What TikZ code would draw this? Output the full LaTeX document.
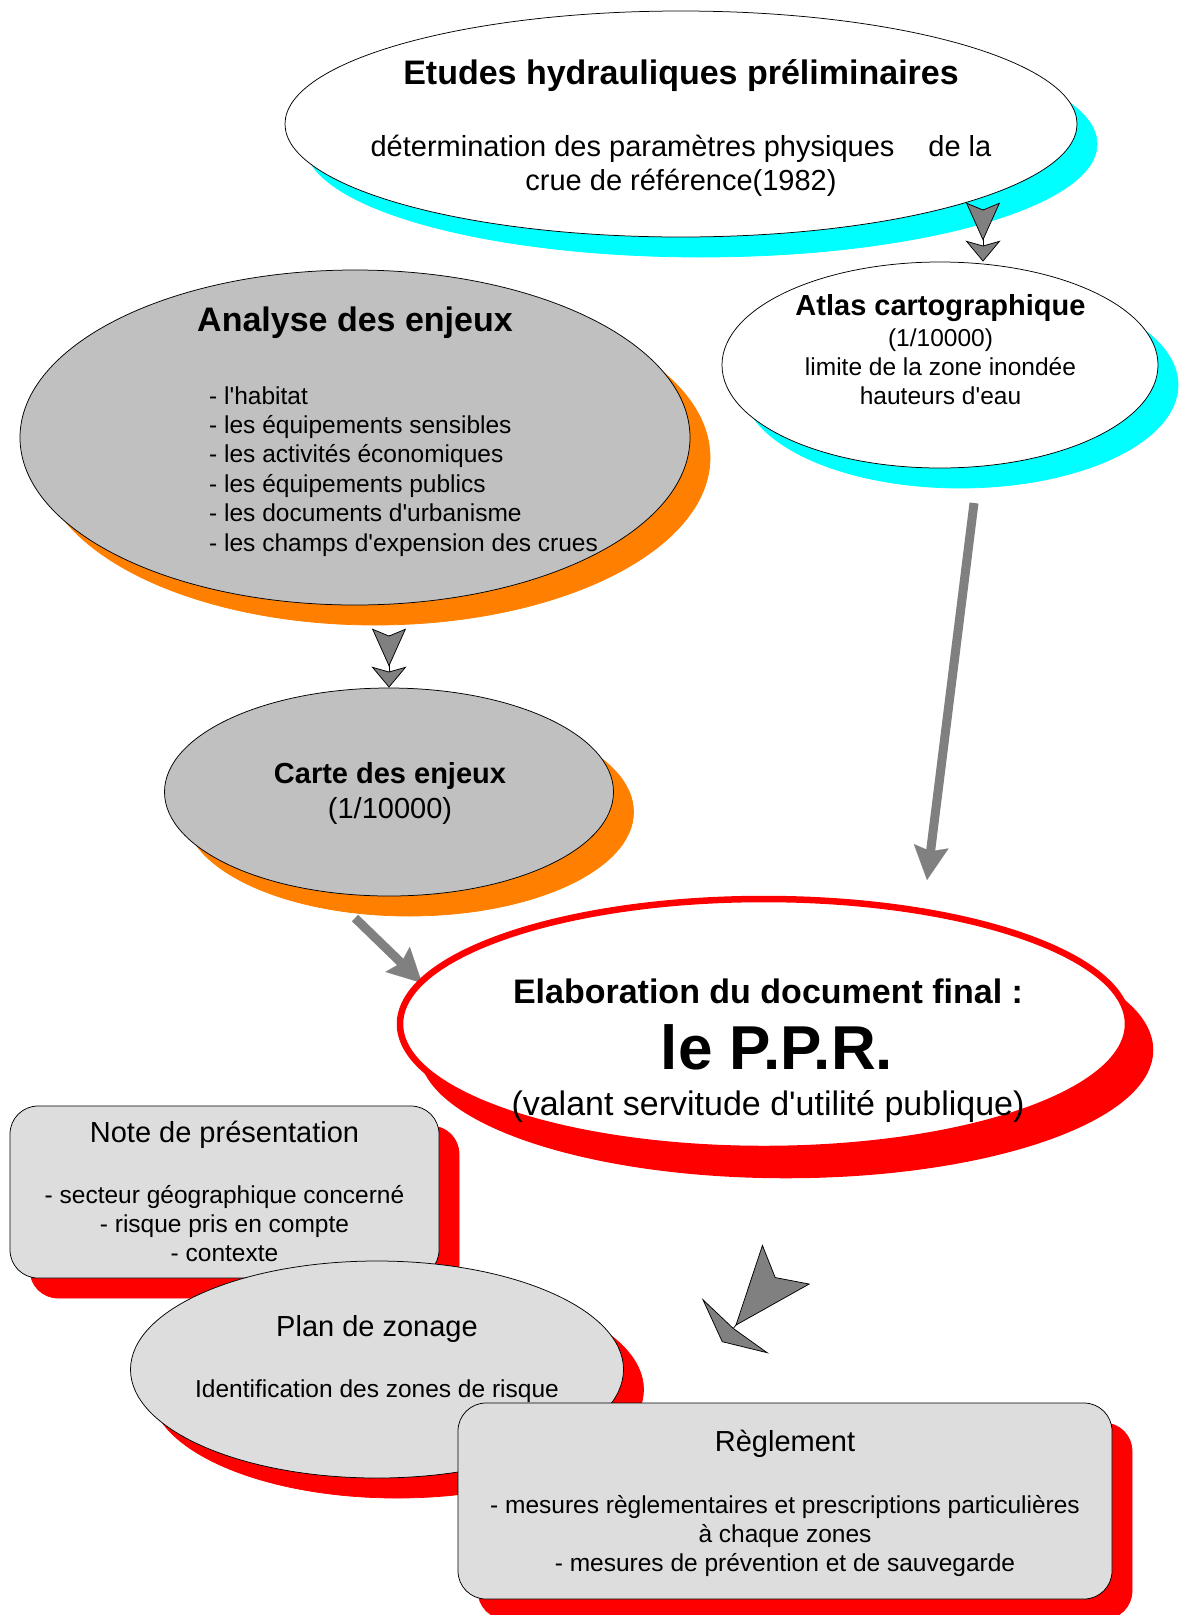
\documentclass[tikz,border=0pt]{standalone}
\usepackage{fontspec}
\setmainfont{Liberation Sans}
\usepackage{xcolor}
\usepackage{tikz}
\usetikzlibrary{arrows.meta,shapes.geometric,shadows}

\definecolor{cyanshd}{RGB}{0,255,255}
\definecolor{orangeshd}{RGB}{255,128,0}
\definecolor{redshd}{RGB}{255,0,0}
\definecolor{silverfill}{RGB}{192,192,192}
\definecolor{lightfill}{RGB}{221,221,221}
\definecolor{arrowgray}{RGB}{128,128,128}

\newcommand{\bigbold}{\fontsize{34}{40}\selectfont\bfseries}
\newcommand{\midbold}{\fontsize{29}{34}\selectfont\bfseries}
\newcommand{\hugebold}{\fontsize{62}{72}\selectfont\bfseries}
\newcommand{\bigtext}{\fontsize{34}{40}\selectfont}
\newcommand{\midtext}{\fontsize{29}{34}\selectfont}
\newcommand{\smalltext}{\fontsize{24.5}{29}\selectfont}
\newcommand{\ap}{\textquotesingle}

\tikzset{
  bubble/.style={ellipse, draw=black, line width=0.75pt, inner sep=0pt},
  slab/.style={rectangle, rounded corners=28pt, draw=black, line width=0.75pt, inner sep=0pt},
  castshadow/.style={general shadow={fill=#1, draw=#1, shadow xshift=20pt, shadow yshift=-20pt}},
  label/.style={anchor=base, inner sep=0pt},
  chevron/.style={draw=black, line width=0.75pt,
    -{Stealth[length=38pt,width=34pt,inset=7pt,fill=arrowgray] Stealth[length=21pt,width=35pt,inset=5pt,fill=arrowgray]}},
  bigarrow/.style={draw=arrowgray, line width=9pt,
    -{Stealth[length=34pt,width=35pt,inset=5pt,line width=0.1pt]}}
}

\begin{document}
\begin{tikzpicture}[x=1pt,y=1pt,yscale=-1]
\useasboundingbox (0,0) rectangle (1182,1615);

%Shape: Ellipse [etudes]
\node[bubble, fill=white, castshadow=cyanshd, minimum width=792pt, minimum height=226pt] (etudes) at (681,124) {};
% Text Node
\node[label, font=\bigbold] (etudesT) at (681,84) {Etudes hydrauliques préliminaires};
\node[label, font=\midtext] (etudesA) at (681,156.5) {détermination des paramètres physiques\hspace{34pt}de la};
\node[label, font=\midtext] (etudesB) at (681,190.5) {crue de référence(1982)};

%Shape: Ellipse [atlas]
\node[bubble, fill=white, castshadow=cyanshd, minimum width=436pt, minimum height=206pt] (atlas) at (940,365) {};
% Text Node
\node[label, font=\midbold] (atlasT) at (940.5,315.5) {Atlas cartographique};
\node[label, font=\smalltext] (atlasA) at (940.5,346) {(1/10000)};
\node[label, font=\smalltext] (atlasB) at (940.5,375) {limite de la zone inondée};
\node[label, font=\smalltext] (atlasC) at (940.5,404) {hauteurs d\ap eau};

%Double chevron
\coordinate (c1) at (983,209);
\draw[chevron] (c1) -- (atlas.north -| c1);

%Shape: Ellipse [analyse]
\node[bubble, fill=silverfill, castshadow=orangeshd, minimum width=670pt, minimum height=335pt] (analyse) at (355,437.5) {};
% Text Node
\node[label, font=\bigbold] (analyseT) at (355,331) {Analyse des enjeux};
\foreach \entry [count=\k from 0] in {l\ap habitat, les équipements sensibles, les activités économiques, les équipements publics, les documents d\ap urbanisme, les champs d\ap expension des crues}
  \node[anchor=base west, inner sep=0pt, font=\smalltext] (enjeu\k) at (209,404+29.4*\k) {- \entry};

%Shape: Ellipse [carte]
\node[bubble, fill=silverfill, castshadow=orangeshd, minimum width=449pt, minimum height=208pt] (carte) at (389,792) {};
% Text Node
\node[label, font=\midbold] (carteT) at (390,783.5) {Carte des enjeux};
\node[label, font=\midtext] (carteA) at (390,818.5) {(1/10000)};

%Double chevron
\coordinate (c2) at (389,635);
\draw[chevron] (c2) -- (carte.north);

%Straight Lines
\coordinate (a3s) at (355,918);
\coordinate (a3e) at (422,983);
\coordinate (a4s) at (974,503);
\coordinate (a4e) at (927,880);
\draw[bigarrow] (a3s) -- (a3e);
\draw[bigarrow] (a4s) -- (a4e);

%Shape: Ellipse [ppr]
\node[bubble, draw=redshd, line width=6.5pt, fill=white,
  general shadow={fill=redshd, draw=redshd, shadow xshift=22pt, shadow yshift=-26pt},
  minimum width=728pt, minimum height=250pt] (ppr) at (764,1024) {};
% Text Node
\node[label, font=\bigbold] (pprT) at (768,1003) {Elaboration du document final :};
\node[label, font=\hugebold] (pprA) at (777,1069) {le P.P.R.};
\node[label, font=\bigtext] (pprB) at (768,1115) {(valant servitude d\ap utilité publique)};

%Shape: Rectangle [note]
\node[slab, fill=lightfill, castshadow=redshd, minimum width=429pt, minimum height=172pt] (note) at (224.5,1192) {};
% Text Node
\node[label, font=\midtext] (noteT) at (224.5,1142) {Note de présentation};
\node[label, font=\smalltext] (noteA) at (224.5,1203) {- secteur géographique concerné};
\node[label, font=\smalltext] (noteB) at (224.5,1232) {- risque pris en compte};
\node[label, font=\smalltext] (noteC) at (224.5,1261) {- contexte};

%Shape: Ellipse [zonage]
\node[bubble, fill=lightfill, castshadow=redshd, minimum width=493pt, minimum height=217pt] (zonage) at (377,1369.5) {};
% Text Node
\node[label, font=\midtext] (zonageT) at (377,1336.5) {Plan de zonage};
\node[label, font=\smalltext] (zonageA) at (377,1397) {Identification des zones de risque};

%Shape: Rectangle [reglement]
\node[slab, fill=lightfill, castshadow=redshd, minimum width=654pt, minimum height=196pt] (reglement) at (785,1501) {};
% Text Node
\node[label, font=\midtext] (reglementT) at (785,1451.5) {Règlement};
\node[label, font=\smalltext] (reglementA) at (785,1513) {- mesures règlementaires et prescriptions particulières};
\node[label, font=\smalltext] (reglementB) at (785,1542) {à chaque zones};
\node[label, font=\smalltext] (reglementC) at (785,1571) {- mesures de prévention et de sauvegarde};

%Double chevron, tilted
\coordinate (w1) at (774,1279);
\coordinate (w2) at (722,1342);
\draw[draw=black, line width=0.75pt,
  -{Stealth[length=80pt,width=62pt,inset=17pt,fill=arrowgray] Stealth[length=21pt,width=87pt,inset=3pt,fill=arrowgray]}] (w1) -- (w2);
\end{tikzpicture}
\end{document}
